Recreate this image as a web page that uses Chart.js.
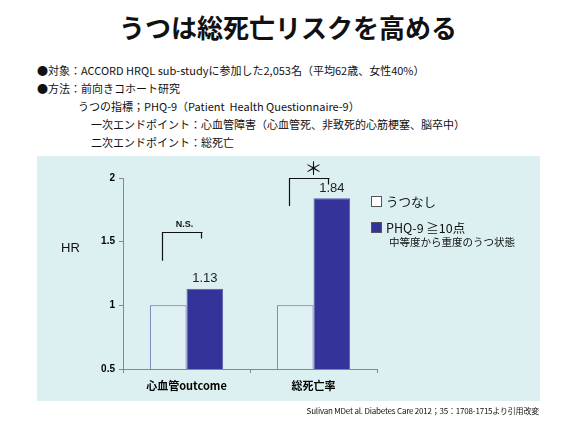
<!DOCTYPE html>
<html><head><meta charset="utf-8">
<script src="https://cdn.jsdelivr.net/npm/chart.js@4.4.1/dist/chart.umd.min.js"></script>
<style>
body{margin:0;width:576px;height:432px;position:relative;background:#fff;overflow:hidden;font-family:'Noto Sans CJK JP',sans-serif;color:#111}
.abs{position:absolute;white-space:nowrap}
#title{top:9px;left:0;width:576px;text-align:center;font-weight:700;font-size:26px;line-height:36px;color:#111}
.desc{font-size:11px;line-height:18px;left:37px}
#panel{left:37px;top:156px;width:503px;height:245px;background:#dcf0f2}
#c{position:absolute;left:0;top:0}
.sq{position:absolute;width:11px;height:11px;box-sizing:border-box;border:1px solid #555}
</style></head>
<body>
<div id="title" class="abs">うつは総死亡リスクを高める</div>
<div class="abs desc" style="top:61px">●対象：ACCORD HRQL sub-studyに参加した2,053名（平均62歳、女性40%）</div>
<div class="abs desc" style="top:79px">●方法：前向きコホート研究</div>
<div class="abs desc" style="top:97px;left:78px">うつの指標；PHQ-9（Patient&nbsp; Health Questionnaire-9）</div>
<div class="abs desc" style="top:115px;left:91px">一次エンドポイント：心血管障害（心血管死、非致死的心筋梗塞、脳卒中）</div>
<div class="abs desc" style="top:133px;left:91px">二次エンドポイント：総死亡</div>
<div id="panel" class="abs"></div>
<canvas id="c" width="576" height="432"></canvas>
<div class="abs" style="left:61px;top:239px;font:13px 'Liberation Sans',sans-serif;line-height:18px">HR</div>
<div class="sq" style="left:371px;top:196px;background:#fff"></div>
<div class="abs" id="lg0" style="left:386px;top:193px;font-size:12.5px;line-height:18px"></div>
<div class="sq" style="left:371px;top:222px;background:#333399"></div>
<div class="abs" id="lg1" style="left:386px;top:219px;font-size:12.5px;line-height:18px"></div>
<div class="abs" style="left:389px;top:234px;font-size:10.5px;line-height:16px">中等度から重度のうつ状態</div>
<div class="abs" style="right:37px;top:404px;font-size:8px;line-height:14px;letter-spacing:-0.2px">Sulivan MDet al. Diabetes Care 2012；35：1708-1715より引用改変</div>
<script>
const categories = ['心血管outcome', '総死亡率'];
const seriesNames = ['うつなし', 'PHQ-9 ≧10点'];
const noDepression = [1, 1];
const phq9High = [1.13, 1.84];
const yTicks = [0.5, 1, 1.5, 2];
const sigLabels = ['N.S.', '＊'];
const bracketTop = [1.575, 2.0];
const bracketBottom = [1.35, 1.78];

document.getElementById('lg0').textContent = seriesNames[0];
document.getElementById('lg1').textContent = seriesNames[1];

const labelPlugin = {
  id: 'valueLabels',
  afterDatasetsDraw(chart) {
    const ctx = chart.ctx;
    const meta = chart.getDatasetMeta(1);
    ctx.save();
    ctx.font = '13px "Liberation Sans", sans-serif';
    ctx.fillStyle = '#222';
    ctx.textAlign = 'center';
    ctx.textBaseline = 'middle';
    meta.data.forEach((bar, i) => {
      ctx.fillText(phq9High[i].toFixed(2), bar.x, bar.y - 10);
    });
    ctx.restore();
  }
};

const bracketPlugin = {
  id: 'brackets',
  afterDraw(chart) {
    const ctx = chart.ctx;
    const xs = chart.scales.x, ys = chart.scales.y;
    const w = xs.width / categories.length;
    ctx.save();
    ctx.strokeStyle = '#111';
    ctx.lineWidth = 1.2;
    categories.forEach((c, i) => {
      const cx = xs.getPixelForValue(i);
      const l = Math.round(cx - 0.19 * w) + 0.5;
      const r = Math.round(cx + 0.12 * w) + 0.5;
      const yt = Math.round(ys.getPixelForValue(bracketTop[i])) + 0.5;
      const yb = ys.getPixelForValue(bracketBottom[i]);
      ctx.beginPath();
      ctx.moveTo(l, yb);
      ctx.lineTo(l, yt);
      ctx.lineTo(r, yt);
      ctx.moveTo(r - 1, yt);
      ctx.lineTo(r - 1, yt + 6);
      ctx.stroke();
      ctx.fillStyle = '#111';
      ctx.textAlign = 'center';
      ctx.textBaseline = 'middle';
      if (i === 0) {
        ctx.font = 'bold 9px "Liberation Sans", sans-serif';
        ctx.fillText(sigLabels[i], (l + r) / 2 + 2, yt - 8);
      } else {
        ctx.font = '18px "Noto Sans CJK JP", sans-serif';
        ctx.fillText(sigLabels[i], (l + r) / 2 + 4, yt - 10);
      }
    });
    ctx.restore();
  }
};

new Chart(document.getElementById('c'), {
  type: 'bar',
  data: {
    labels: categories,
    datasets: [
      { label: seriesNames[0], data: noDepression, backgroundColor: '#e0f1f3', borderColor: '#6a6aa8', borderWidth: 1, categoryPercentage: 0.577, barPercentage: 1 },
      { label: seriesNames[1], data: phq9High, backgroundColor: '#333399', borderColor: '#5a5aa6', borderWidth: 1, categoryPercentage: 0.577, barPercentage: 1 }
    ]
  },
  options: {
    responsive: false,
    animation: false,
    devicePixelRatio: 1,
    layout: { padding: { left: 0, top: 178, right: 199, bottom: 0 } },
    plugins: { legend: { display: false }, tooltip: { enabled: false } },
    scales: {
      x: {
        afterFit: s => { s.height = 63; },
        grid: { drawOnChartArea: false, drawTicks: true, tickLength: 4, color: '#888', offset: true },
        border: { display: true, color: '#888', width: 1 },
        ticks: { color: '#000', padding: 6, font: { family: '"Noto Sans CJK JP", sans-serif', size: 11, weight: 'bold' } }
      },
      y: {
        min: 0.5, max: 2,
        afterFit: s => { s.width = 123; },
        afterBuildTicks: s => { s.ticks = yTicks.map(v => ({ value: v })); },
        grid: { drawOnChartArea: false, drawTicks: true, tickLength: 4, color: '#888' },
        border: { display: true, color: '#888', width: 1 },
        ticks: { color: '#000', padding: 4, font: { family: '"Liberation Sans", sans-serif', size: 10, weight: 'bold' }, callback: v => String(v) }
      }
    }
  },
  plugins: [labelPlugin, bracketPlugin]
});
</script>
</body></html>
